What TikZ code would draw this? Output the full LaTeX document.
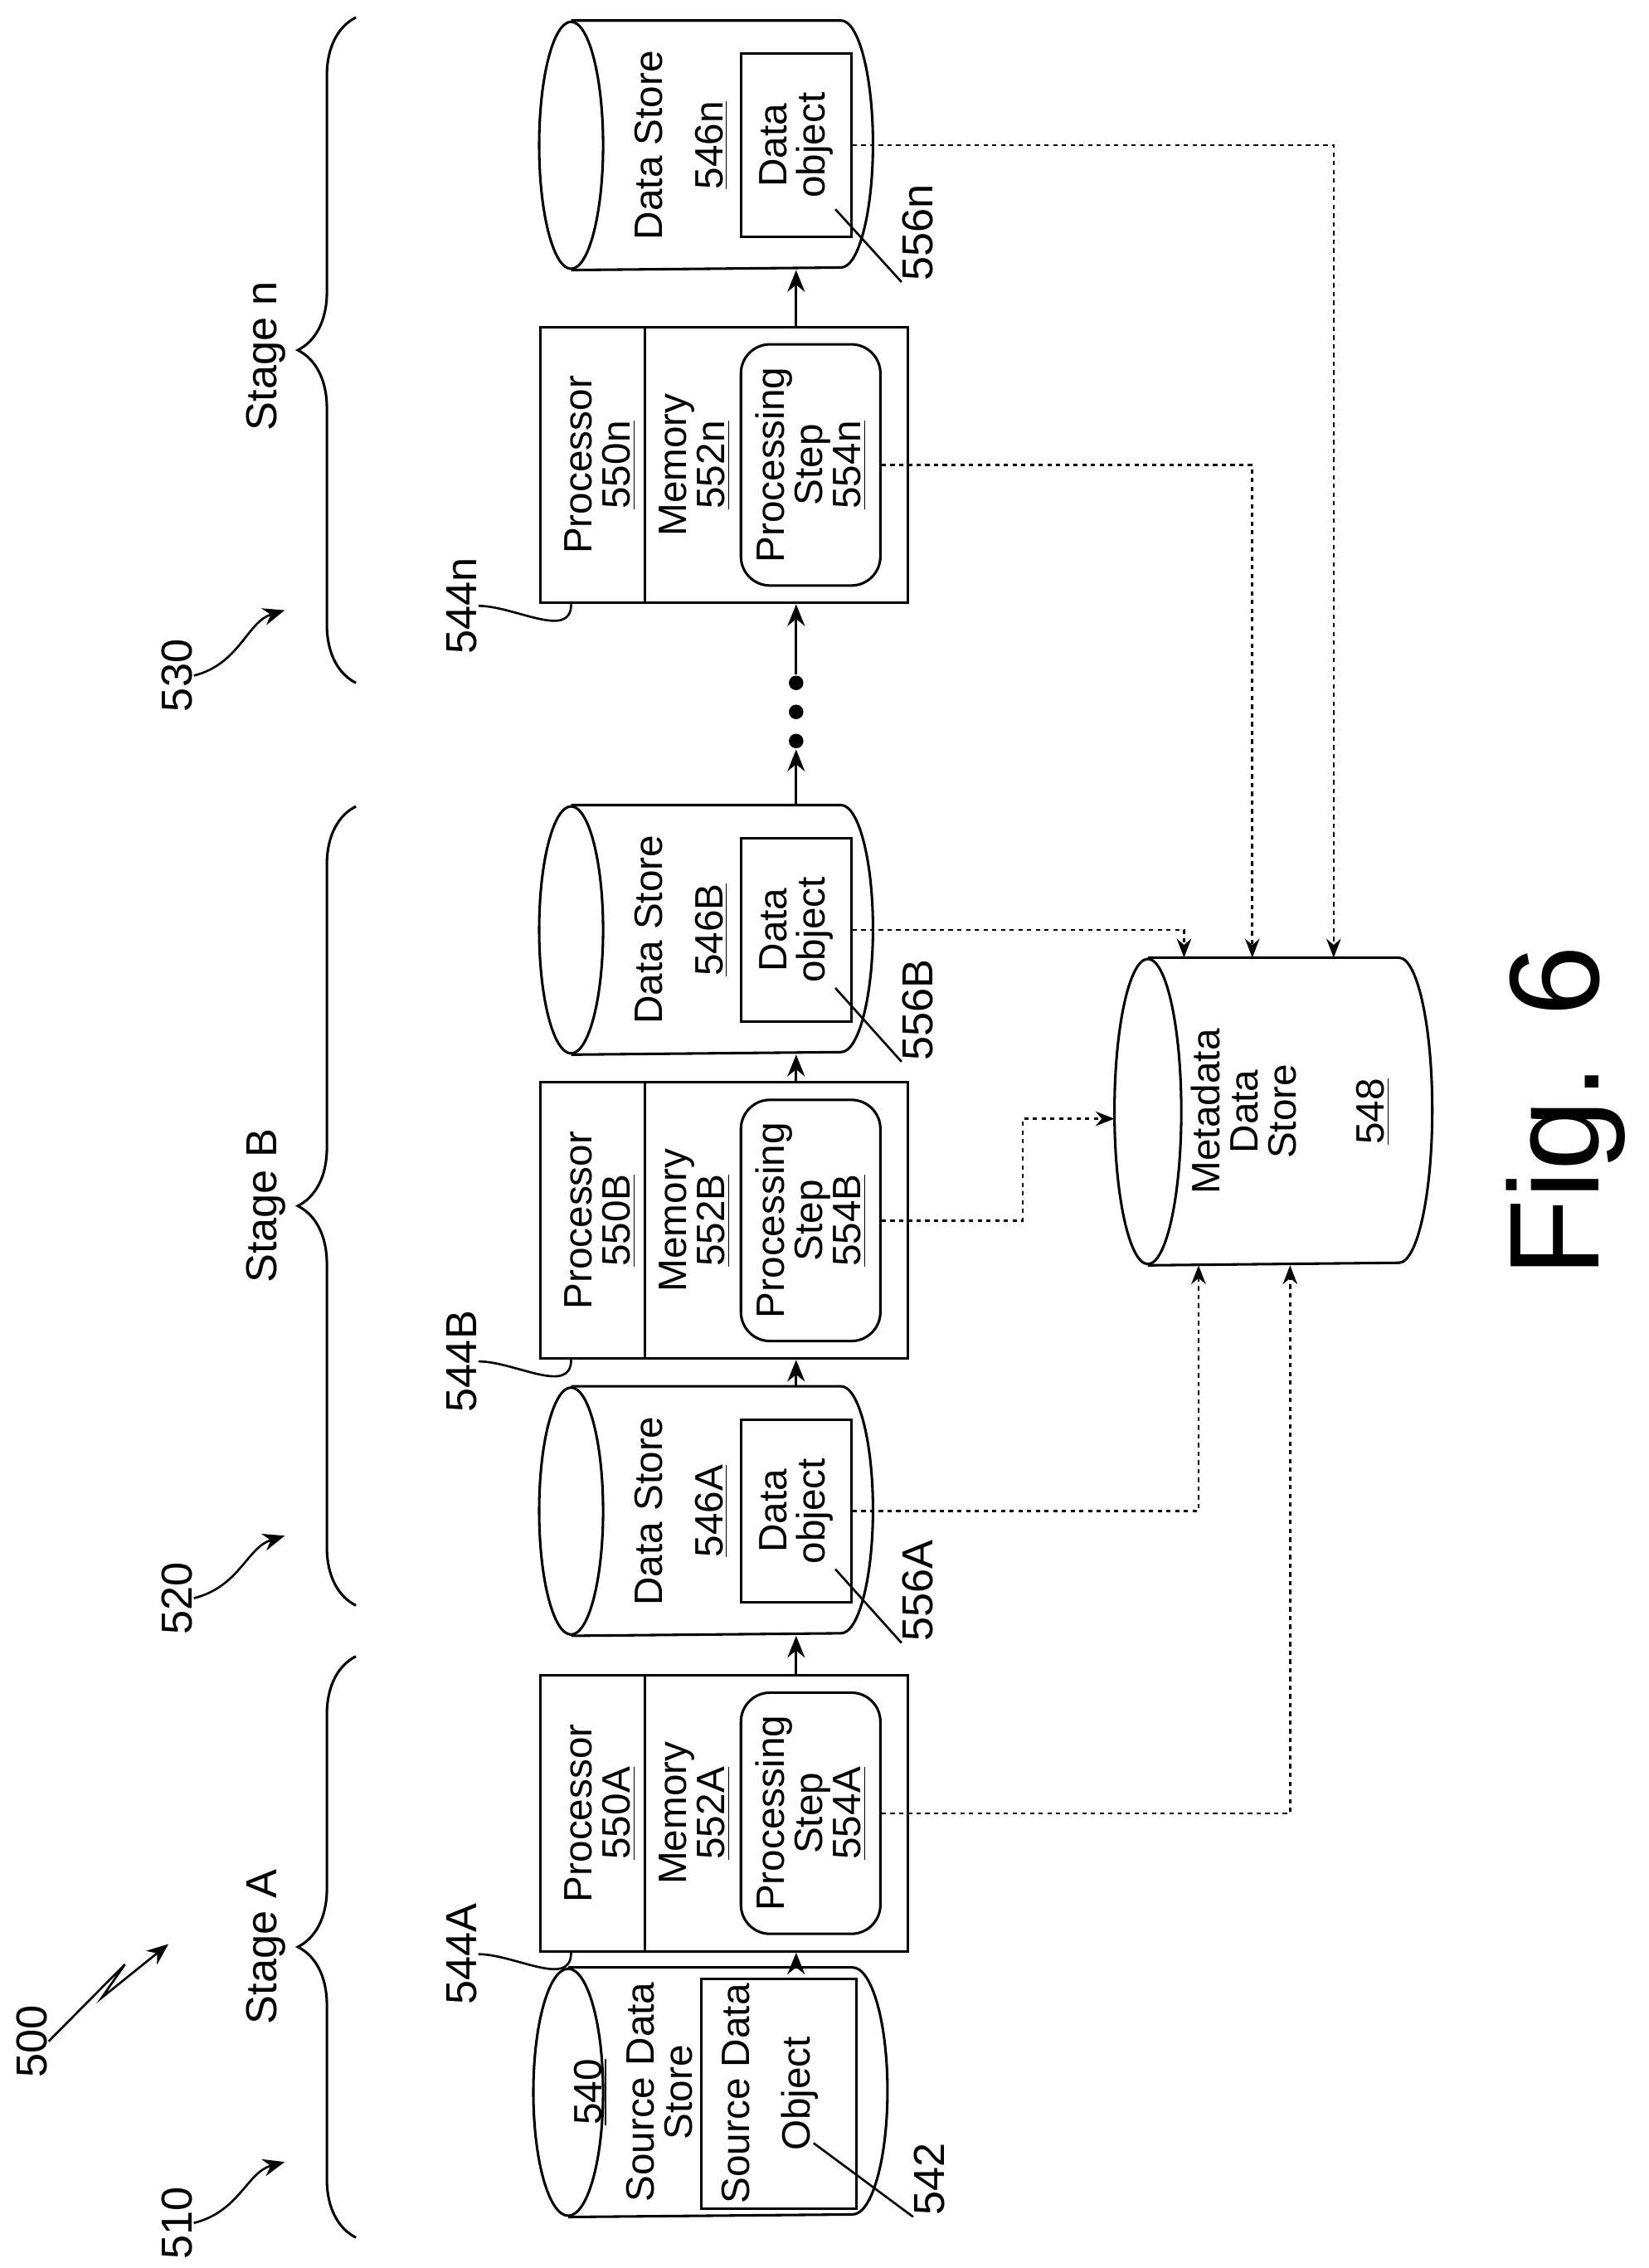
\documentclass[tikz,border=0pt]{standalone}
\usepackage{fontspec}
\setmainfont{Liberation Sans}
\usetikzlibrary{shapes, arrows.meta, positioning, calc, decorations.pathreplacing}

% cylinder outline round a plain node: name, x radius, y radius
\newcommand\drawstore[3]{%
  \draw ([xshift=#2]#1.north west) -- ([xshift=-#2]#1.north east)
    arc [start angle = 90, end angle = -90, x radius = #2, y radius = #3]
    -- ([xshift=#2]#1.south west);
  \draw ([xshift=#2]#1.west) ellipse [x radius = #2, y radius = #3];}

\begin{document}
\begin{tikzpicture}
  [
  x = 0.2mm, y = -0.2mm,
  line width = 0.35mm,
  % store
  store/.style = {rectangle, inner sep = 0pt},
  % box
  box/.style = {rectangle, draw, inner sep = 0pt},
  % step
  pstep/.style = {rectangle, rounded corners = 4mm, draw, inner sep = 0pt,
    minimum width = 19.2mm, minimum height = 33.2mm},
  % text
  txt/.style = {rotate = 90, align = center, inner sep = 0pt,
    font = \fontsize{15.5}{15}\selectfont},
  num/.style = {txt, font = \fontsize{17}{20}\selectfont},
  % line
  flow/.style = {draw, -{Stealth[length = 3mm, width = 2.4mm]}},
  mline/.style = {draw, -{Stealth[length = 2.6mm, width = 2mm]}, line width = 0.3mm,
    dash pattern = on 0.6mm off 0.6mm},
  lead/.style = {draw, line width = 0.3mm},
  stage/.style = {draw, decorate, decoration = {brace, amplitude = 8mm}},
  ]
  \useasboundingbox (0,0) rectangle (1135,1561);

  % source
  \node [store, minimum width = 48.4mm, minimum height = 34mm] (src) at (489,1440) {};
  \drawstore{src}{4.8mm}{17mm}
  \node [box, minimum width = 21.4mm, minimum height = 31.6mm] (srcobj) at (536,1441) {};
  \node [txt] at (436,1440) {\underline{540}\\[2mm]Source Data\\Store};
  \node [txt] at (530,1441) {Source Data\\[3mm]Object};

  % stage A
  \node [box, minimum width = 50.6mm, minimum height = 38mm] (procA) at (498.5,1248) {};
  \node [pstep] (stepA) at (558,1248) {};
  \node [txt] at (413,1248) {Processor\\\underline{550A}};
  \node [txt] at (478,1248) {Memory\\\underline{552A}};
  \node [txt] at (558,1248) {Processing\\Step\\\underline{554A}};
  \node [store, minimum width = 45.6mm, minimum height = 34mm] (dsA) at (486,1040) {};
  \drawstore{dsA}{4.4mm}{17mm}
  \node [box, minimum width = 15.2mm, minimum height = 25.2mm] (dobjA) at (548,1040) {};
  \node [txt] at (469,1040) {Data Store\\[3mm]\underline{546A}};
  \node [txt] at (548,1040) {Data\\object};

  % stage B
  \node [box, minimum width = 50.6mm, minimum height = 38mm] (procB) at (498.5,840) {};
  \node [pstep] (stepB) at (558,840) {};
  \node [txt] at (413,840) {Processor\\\underline{550B}};
  \node [txt] at (478,840) {Memory\\\underline{552B}};
  \node [txt] at (558,840) {Processing\\Step\\\underline{554B}};
  \node [store, minimum width = 45.6mm, minimum height = 34mm] (dsB) at (486,640) {};
  \drawstore{dsB}{4.4mm}{17mm}
  \node [box, minimum width = 15.2mm, minimum height = 25.2mm] (dobjB) at (548,640) {};
  \node [txt] at (469,640) {Data Store\\[3mm]\underline{546B}};
  \node [txt] at (548,640) {Data\\object};

  % stage n
  \node [box, minimum width = 50.6mm, minimum height = 38mm] (procN) at (498.5,320) {};
  \node [pstep] (stepN) at (558,320) {};
  \node [txt] at (413,320) {Processor\\\underline{550n}};
  \node [txt] at (478,320) {Memory\\\underline{552n}};
  \node [txt] at (558,320) {Processing\\Step\\\underline{554n}};
  \node [store, minimum width = 45.6mm, minimum height = 34mm] (dsN) at (486,100) {};
  \drawstore{dsN}{4.4mm}{17mm}
  \node [box, minimum width = 15.2mm, minimum height = 25.2mm] (dobjN) at (548,100) {};
  \node [txt] at (469,100) {Data Store\\[3mm]\underline{546n}};
  \node [txt] at (548,100) {Data\\object};

  % dividers
  \draw ($(procA.north west)+(73,0)$) -- ($(procA.south west)+(73,0)$);
  \draw ($(procB.north west)+(73,0)$) -- ($(procB.south west)+(73,0)$);
  \draw ($(procN.north west)+(73,0)$) -- ($(procN.south west)+(73,0)$);

  % metadata
  \node [store, minimum width = 43.4mm, minimum height = 42mm] (meta) at (876.5,765) {};
  \drawstore{meta}{4.6mm}{21mm}
  \node [txt] at (856,765) {Metadata\\Data\\Store};
  \node [txt] at (945,765) {\underline{548}};

  % dots
  \coordinate (axis) at (548,0);
  \node [circle, fill, inner sep = 0pt, minimum size = 2mm] (dot1) at (548,510) {};
  \node [circle, fill, inner sep = 0pt, minimum size = 2mm] (dot2) at (548,490) {};
  \node [circle, fill, inner sep = 0pt, minimum size = 2mm] (dot3) at (548,470) {};

  % path
  \path [flow] (src.north -| axis) -- (procA.south -| axis);
  \path [flow] (procA.north -| axis) -- (dsA.south -| axis);
  \path [flow] (dsA.north -| axis) -- (procB.south -| axis);
  \path [flow] (procB.north -| axis) -- (dsB.south -| axis);
  \path [flow] (dsB.north -| axis) -- (dot1);
  \path [flow] (dot3) -- (procN.south -| axis);
  \path [flow] (procN.north -| axis) -- (dsN.south -| axis);

  \path [mline] (stepA.east) -| ($(meta.south)+(11.5,0)$);
  \path [mline] (dobjA.east) -| ($(meta.south)+(-51.5,0)$);
  \path [mline] (stepB.east) -- ++(97,0) |- ($(meta.west)+(0,5)$);
  \path [mline] (dobjB.east) -| ($(meta.north)+(-61.5,0)$);
  \path [mline] (stepN.east) -| ($(meta.north)+(-14.5,0)$);
  \path [mline] (dobjN.east) -| ($(meta.north)+(41.5,0)$);

  % stages
  \path [stage] (245,1540) -- (245,1140);
  \path [stage] (245,1105) -- (245,555);
  \path [stage] (245,470) -- (245,12);
  \node [num] (stA) at (183,1340) {Stage A};
  \node [num] (stB) at (183,830) {Stage B};
  \node [num] (stN) at (183,245) {Stage n};

  % labels
  \node [num] (l510) at (122,1530) {510};
  \node [num] (l520) at (122,1100) {520};
  \node [num] (l530) at (122,465) {530};
  \node [num] (l500) at (22,1405) {500};
  \path [flow, line width = 0.3mm] (l510.south) .. controls (165,1522) and (170,1495) .. (196,1488);
  \path [flow, line width = 0.3mm] (l520.south) .. controls (165,1092) and (170,1065) .. (196,1057);
  \path [flow, line width = 0.3mm] (l530.south) .. controls (165,457) and (170,428) .. (196,420);
  \path [flow, line width = 0.3mm] (l500.south) -- (86,1352) -- (70,1375) -- (116,1338);

  \node [num] (l544A) at (318,1345) {544A};
  \node [num] (l544B) at (318,937) {544B};
  \node [num] (l544N) at (318,417) {544n};
  \path [lead] (l544A.south) to [out = 0, in = -90] ($(procA.south west)+(22,0)$);
  \path [lead] (l544B.south) to [out = 0, in = -90] ($(procB.south west)+(22,0)$);
  \path [lead] (l544N.south) to [out = 0, in = -90] ($(procN.south west)+(22,0)$);

  \node [num] (l556A) at (632,1095) {556A};
  \node [num] (l556B) at (632,695) {556B};
  \node [num] (l556N) at (632,160) {556n};
  \node [num] (l542) at (640,1500) {542};
  \path [lead] (575,1080) -- (l556A.north west);
  \path [lead] (575,680) -- (l556B.north west);
  \path [lead] (575,144) -- (l556N.north west);
  \path [lead] (560,1475) -- (l542.north west);

  \node [rotate = 90, font = \fontsize{50}{50}\selectfont] (fig) at (1078,765) {Fig. 6};
\end{tikzpicture}
\end{document}
